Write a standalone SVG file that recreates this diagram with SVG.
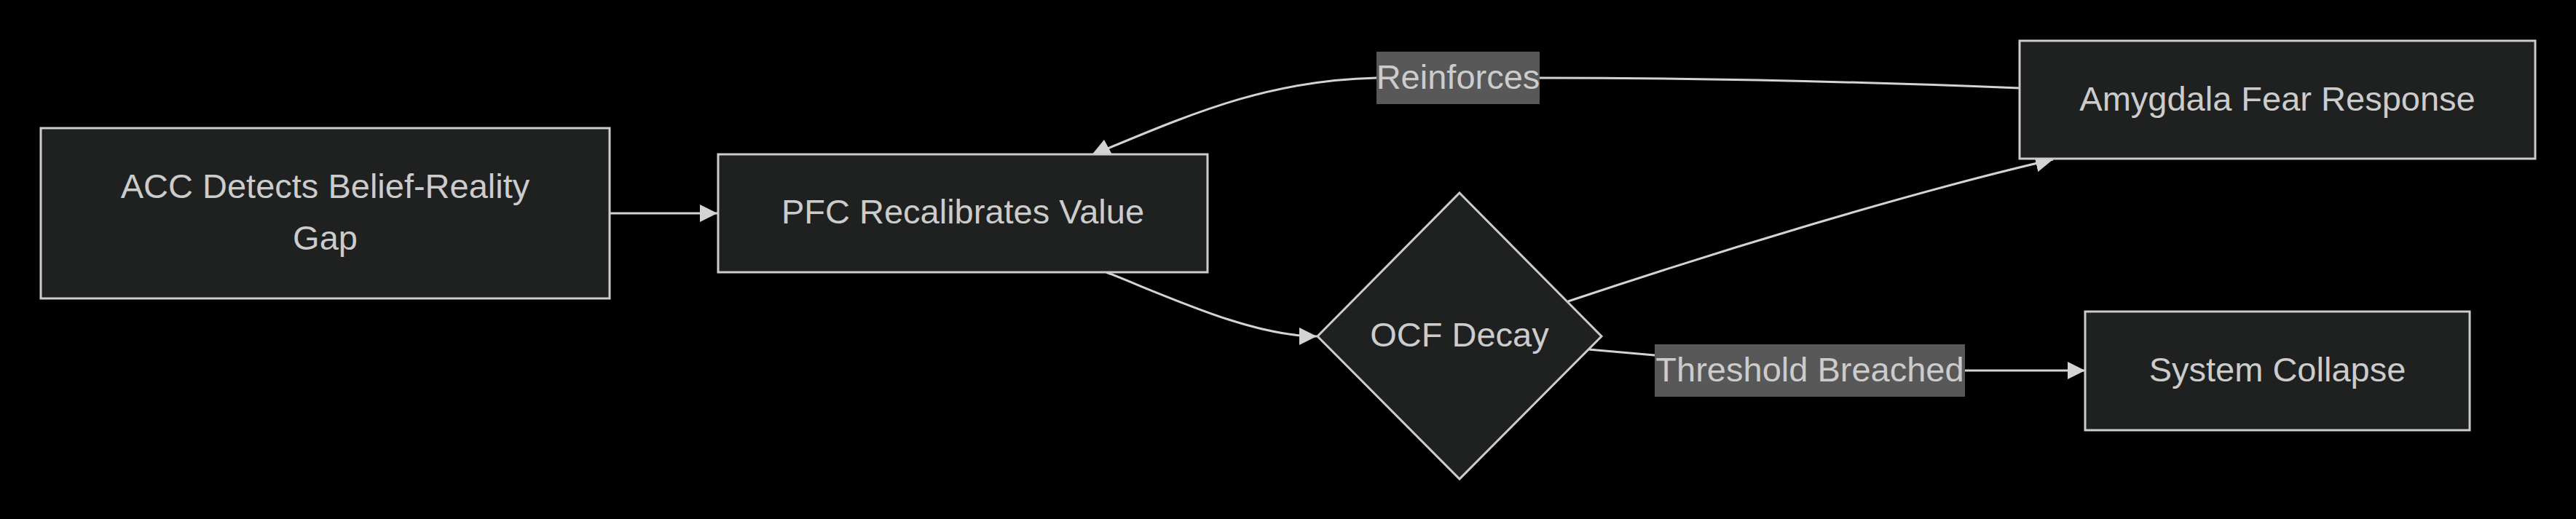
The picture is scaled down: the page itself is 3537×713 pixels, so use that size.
<svg xmlns="http://www.w3.org/2000/svg" width="3537" height="713" viewBox="0 0 3537 713">
<style>
.node rect, .node polygon { fill: #1f2020; stroke: #cccccc; stroke-width: 3; }
.node text, .elabel text { font-family: "Liberation Sans", Arial, sans-serif; font-size: 47px; fill: #cccccc; text-anchor: middle; }
.edge { fill: none; stroke: #d3d3d3; stroke-width: 3; }
.elabel rect { fill: #585858; }
.head { fill: #d3d3d3; }
</style>
<defs>
<marker id="arrow" viewBox="0 0 10 10" refX="10" refY="5" markerUnits="userSpaceOnUse" markerWidth="24" markerHeight="24" orient="auto">
<path d="M0,0 L10,5 L0,10 z" class="head"/>
</marker>
</defs>
<rect x="0" y="0" width="3537" height="713" fill="#000000"/>
<g id="connectors">
<path class="edge" d="M837,293 L985,293" marker-end="url(#arrow)"/>
<path class="edge" d="M1519,374 C1610,410 1720,462 1808,462" marker-end="url(#arrow)"/>
<path class="edge" d="M2153,414 C2350,348 2620,265 2819,219" marker-end="url(#arrow)"/>
<path class="edge" d="M2773,121 C2500,110 2300,107 2114,107 L1890,107 C1750,110 1650,150 1521,204"/>
<polygon class="head" points="1516,192 1498,214 1528,214"/>
<path class="edge" d="M2181,480 L2272,488 L2320,509 L2863,509" marker-end="url(#arrow)"/>
</g>
<g id="edge-labels">
<g class="elabel" id="label-reinforces">
<rect x="1890" y="71" width="224" height="72"/>
<text x="2002" y="122">Reinforces</text>
</g>
<g class="elabel" id="label-threshold">
<rect x="2272" y="473" width="426" height="72"/>
<text x="2485" y="524">Threshold Breached</text>
</g>
</g>
<g class="node" id="node-acc">
<rect x="56" y="176" width="781" height="234"/>
<text x="446.5" y="272">ACC Detects Belief-Reality</text>
<text x="446.5" y="343">Gap</text>
</g>
<g class="node" id="node-pfc">
<rect x="986" y="212" width="672" height="162"/>
<text x="1322" y="307">PFC Recalibrates Value</text>
</g>
<g class="node" id="node-ocf">
<polygon points="2004,265 2199,462 2004,658 1809,462"/>
<text x="2004" y="476">OCF Decay</text>
</g>
<g class="node" id="node-amygdala">
<rect x="2773" y="56" width="708" height="162"/>
<text x="3127" y="152">Amygdala Fear Response</text>
</g>
<g class="node" id="node-collapse">
<rect x="2863" y="428" width="528" height="163"/>
<text x="3127" y="524">System Collapse</text>
</g>
</svg>
